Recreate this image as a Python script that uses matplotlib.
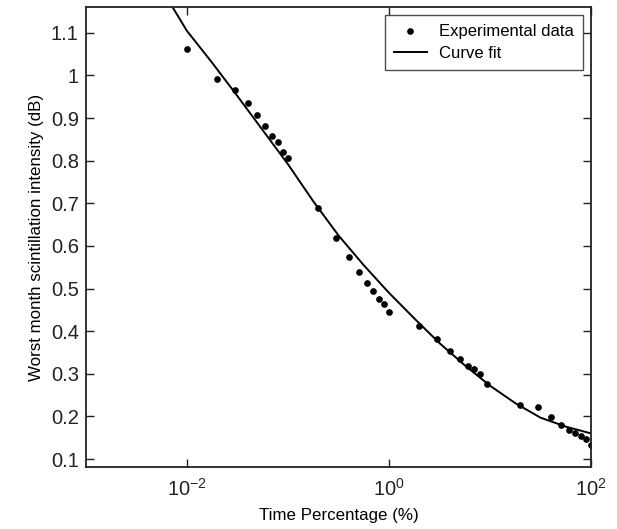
import matplotlib
matplotlib.use("Agg")
import matplotlib.pyplot as plt
from matplotlib.ticker import FixedLocator, FixedFormatter, NullLocator

# experimental points
exp_time = [0.01, 0.02, 0.03, 0.04, 0.05, 0.06, 0.07, 0.08, 0.09, 0.1,
            0.2, 0.3, 0.4, 0.5, 0.6, 0.7, 0.8, 0.9, 1.0,
            2, 3, 4, 5, 6, 7, 8, 9.4,
            20, 30, 40, 50, 60, 70, 80, 90, 100]
exp_db = [1.062, 0.991, 0.965, 0.935, 0.907, 0.882, 0.859, 0.844, 0.821, 0.807,
          0.688, 0.618, 0.573, 0.539, 0.514, 0.494, 0.475, 0.464, 0.445,
          0.412, 0.381, 0.354, 0.335, 0.318, 0.312, 0.300, 0.277,
          0.227, 0.223, 0.199, 0.180, 0.168, 0.162, 0.155, 0.146, 0.133]

# fitted curve
fit_time = [0.0072, 0.01, 0.0178, 0.0316, 0.0562, 0.1, 0.178, 0.316, 0.562,
            1.0, 1.78, 3.16, 5.62, 10, 17.8, 31.6, 56.2, 100]
fit_db = [1.161, 1.105, 1.03, 0.952, 0.872, 0.792, 0.705, 0.625, 0.555,
          0.49, 0.43, 0.372, 0.32, 0.272, 0.231, 0.197, 0.176, 0.16]

ytick_vals = [0.1, 0.2, 0.3, 0.4, 0.5, 0.6, 0.7, 0.8, 0.9, 1.0, 1.1]
ytick_labels = ["0.1", "0.2", "0.3", "0.4", "0.5", "0.6", "0.7", "0.8", "0.9", "1", "1.1"]
xtick_vals = [1e-2, 1e0, 1e2]
xtick_labels = [r"$10^{-2}$", r"$10^{0}$", r"$10^{2}$"]

plt.rcParams["font.family"] = ["Liberation Sans", "DejaVu Sans"]
plt.rcParams["mathtext.fontset"] = "custom"
plt.rcParams["mathtext.rm"] = "Liberation Sans"
plt.rcParams["mathtext.it"] = "Liberation Sans"

fig = plt.figure(figsize=(6.17, 5.29), dpi=100)
ax = fig.add_axes([0.139, 0.117, 0.819, 0.870])

ax.plot(exp_time, exp_db, "o", color="black", markersize=3.8, label="Experimental data")
ax.plot(fit_time, fit_db, "-", color="black", linewidth=1.4, label="Curve fit")

ax.set_xscale("log")
ax.set_xlim(1e-3, 1e2)
ax.set_ylim(0.081, 1.161)

ax.xaxis.set_major_locator(FixedLocator(xtick_vals))
ax.xaxis.set_major_formatter(FixedFormatter(xtick_labels))
ax.xaxis.set_minor_locator(NullLocator())
ax.set_yticks(ytick_vals)
ax.set_yticklabels(ytick_labels)

ax.tick_params(direction="in", length=6, width=1, top=True, right=True,
               labelsize=14.5, colors="#222222", pad=5)
ax.tick_params(axis="x", pad=8)
for s in ax.spines.values():
    s.set_linewidth(1.3)
    s.set_color("#222222")

ax.set_xlabel("Time Percentage (%)", fontsize=12.2, labelpad=6)
ax.set_ylabel("Worst month scintillation intensity (dB)", fontsize=12.2, labelpad=5)

leg = ax.legend(loc="upper right", fontsize=12, frameon=True, fancybox=False,
                edgecolor="#222222", handlelength=2.0, handletextpad=0.7,
                borderpad=0.55, labelspacing=0.38, borderaxespad=0.5)
leg.get_frame().set_linewidth(1.0)

fig.savefig("out.png", dpi=100)
